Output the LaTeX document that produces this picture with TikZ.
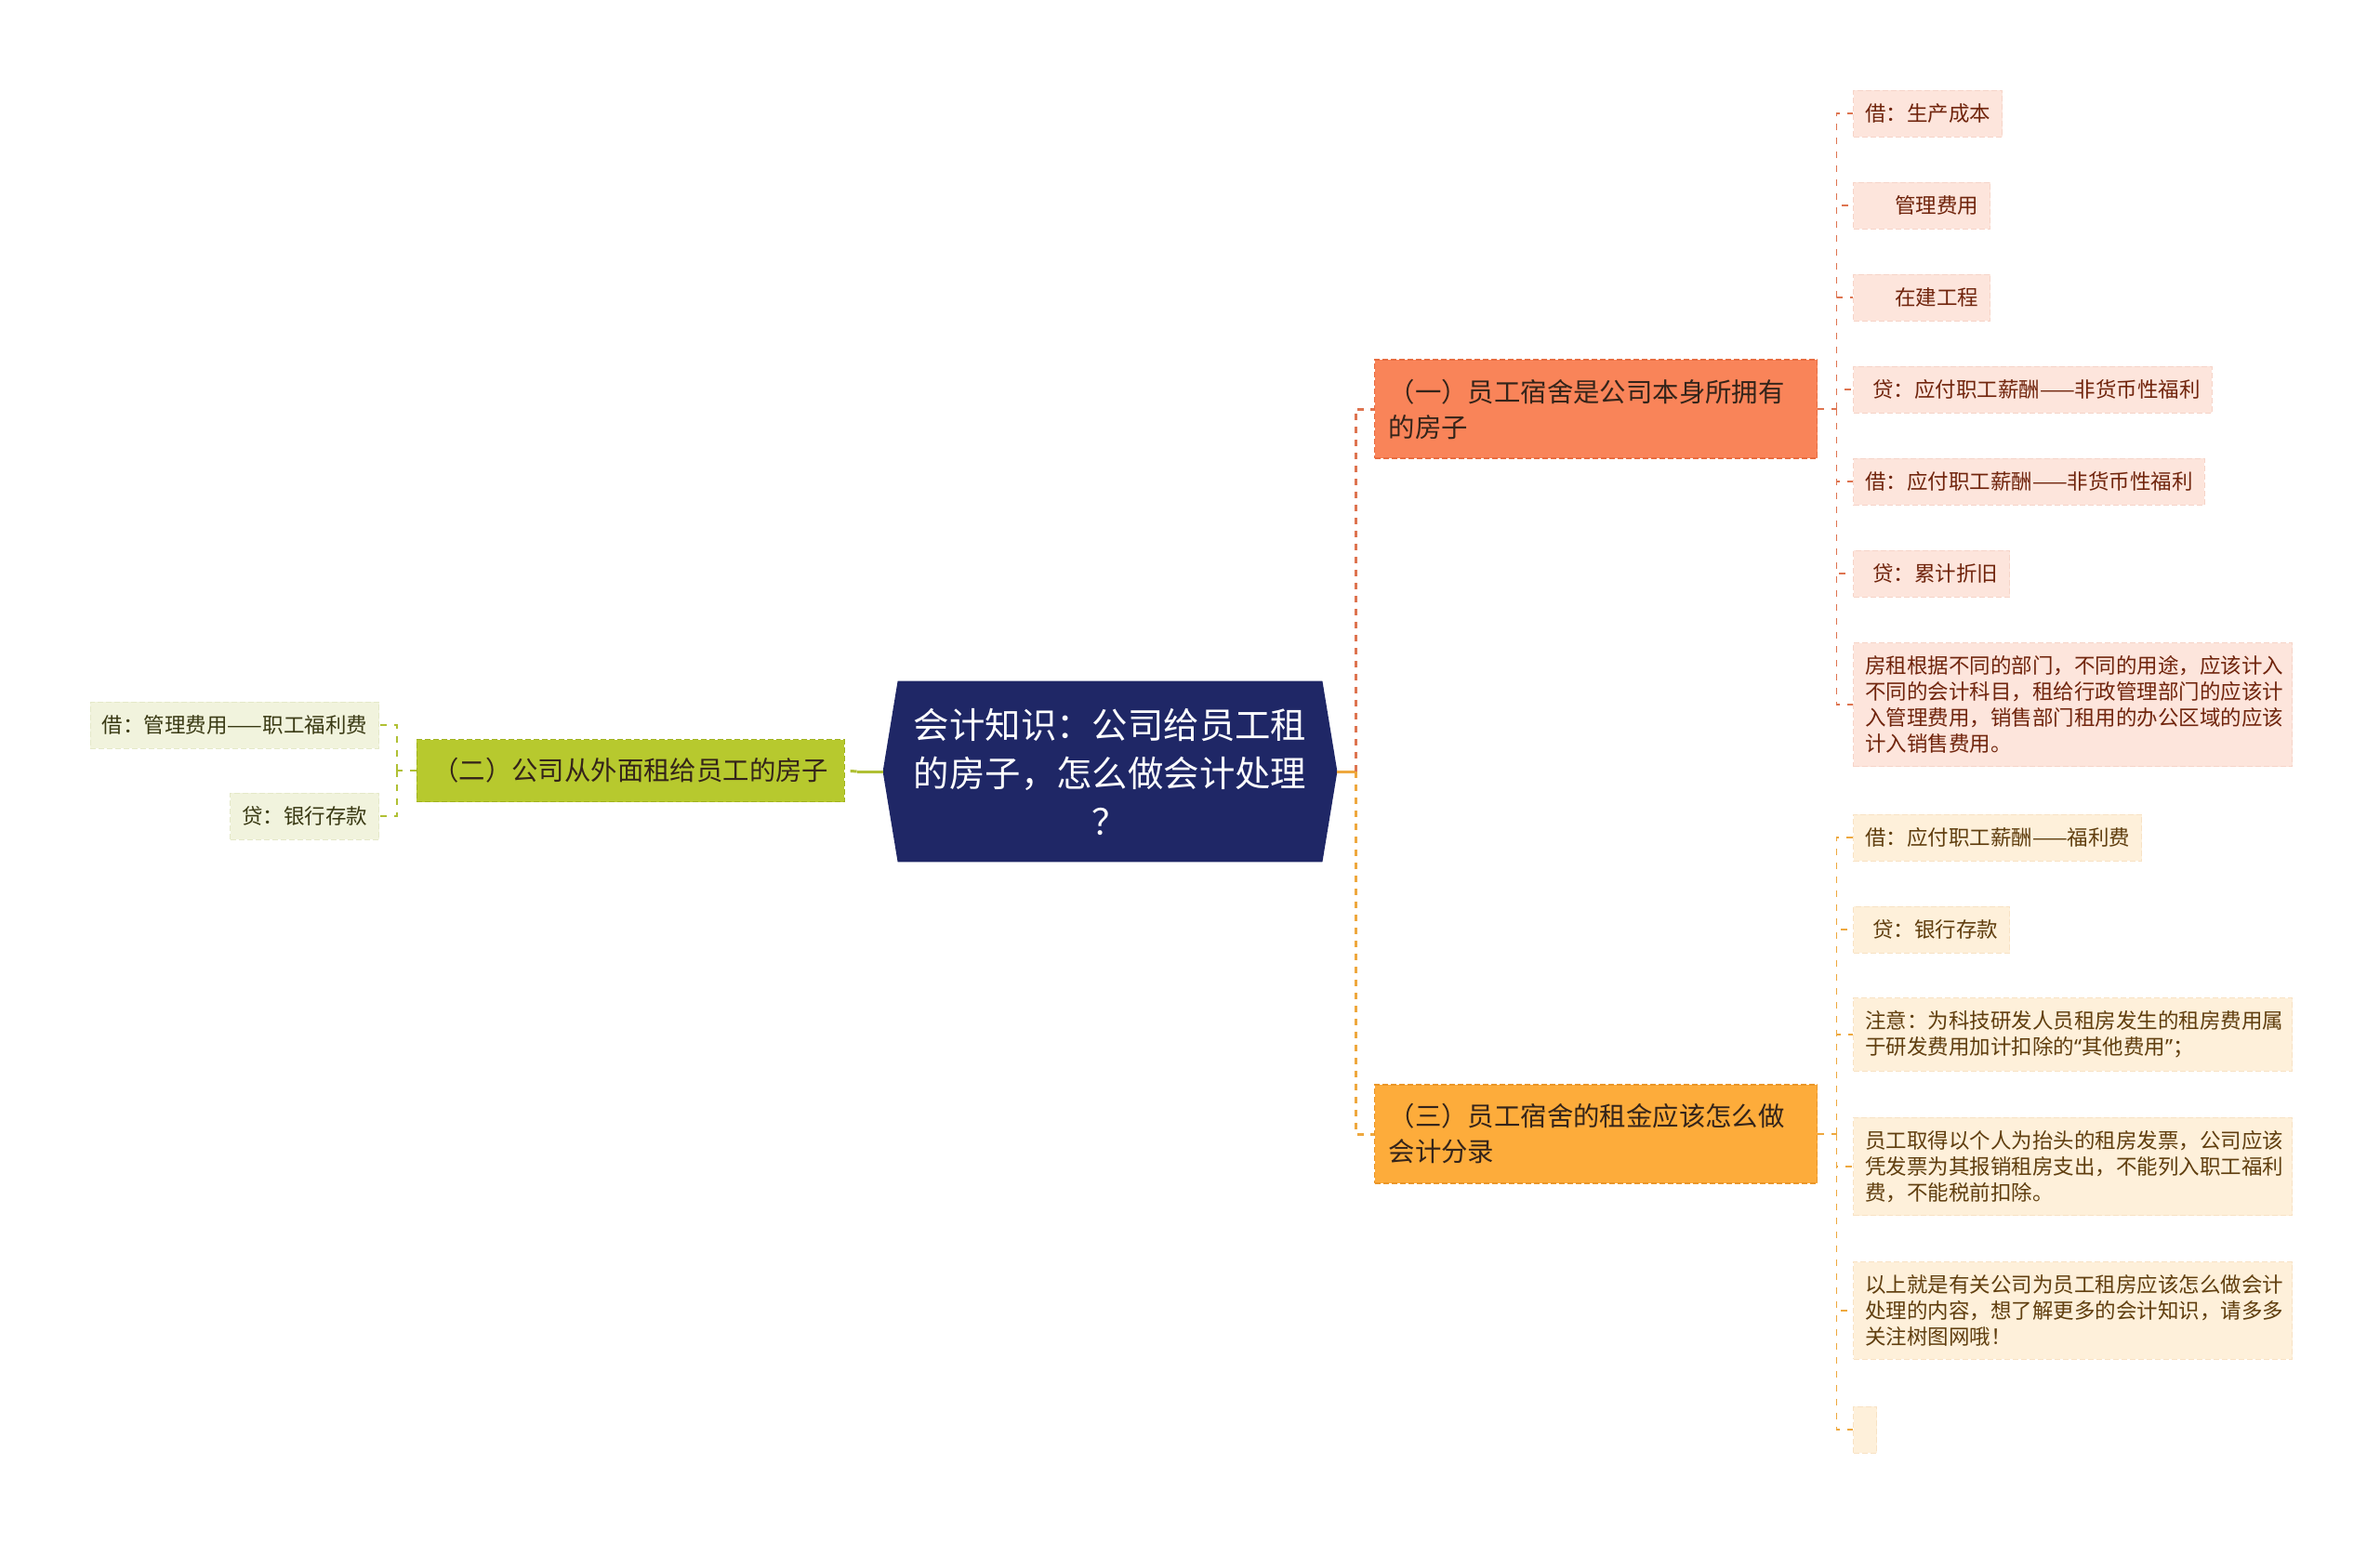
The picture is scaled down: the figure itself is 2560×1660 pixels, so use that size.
\documentclass[tikz,border=0pt]{standalone}
\usepackage{fontspec}
\setmainfont{Noto Sans CJK SC}
\newfontfamily\quotefont{Noto Sans}
\usetikzlibrary{calc, backgrounds}
\definecolor{rootnavy}{RGB}{31,39,102}
\definecolor{branchink}{RGB}{52,36,26}
% orange branch
\definecolor{coral}{RGB}{249,132,89}
\definecolor{coraledge}{RGB}{232,108,64}
\definecolor{coralline}{RGB}{222,116,80}
\definecolor{coralleaf}{RGB}{253,229,220}
\definecolor{coralleafedge}{RGB}{246,212,200}
\definecolor{coralink}{RGB}{112,36,12}
% amber branch
\definecolor{amber}{RGB}{253,172,59}
\definecolor{amberedge}{RGB}{234,150,40}
\definecolor{amberline}{RGB}{238,168,62}
\definecolor{amberleaf}{RGB}{254,240,218}
\definecolor{amberleafedge}{RGB}{248,226,196}
\definecolor{amberink}{RGB}{96,62,14}
% lime branch
\definecolor{lime}{RGB}{183,201,46}
\definecolor{limeedge}{RGB}{160,178,30}
\definecolor{limeline}{RGB}{176,192,52}
\definecolor{limeleaf}{RGB}{241,243,221}
\definecolor{limeleafedge}{RGB}{228,232,200}
\definecolor{limeink}{RGB}{58,58,20}

\begin{document}
\begin{tikzpicture}[x=0.5pt, y=-0.5pt,
  rootbox/.style={minimum width=228pt, minimum height=97pt, inner sep=0pt, align=center, text=white, font=\fontsize{19.2}{26}\selectfont},
  branchbox/.style={draw=#1edge, fill=#1, dash pattern=on 3pt off 1.5pt, line width=0.7pt, inner xsep=7.5pt, text=branchink, font=\fontsize{14.2}{19}\selectfont},
  leafbox/.style={draw=#1leafedge, fill=#1leaf, dash pattern=on 3pt off 1.5pt, line width=0.5pt, inner xsep=6.25pt, inner ysep=7pt, minimum height=25pt, text=#1ink, align=left, font=\fontsize{11.25}{14}\selectfont},
  link/.style={draw=#1line, line width=1.5pt, dash pattern=on 3.5pt off 3.5pt},
  twig/.style={draw=#1line, line width=0.9pt, dash pattern=on 3.5pt off 4pt}]
\useasboundingbox (0,0) rectangle (2560,1660);

% root
\node[rootbox] (root) at (1194,830) {会计知识：公司给员工租\\的房子，怎么做会计处理\\？};
\begin{scope}[on background layer]
\fill[rootnavy] (root.north west) -- (root.north east) -- ($(root.east)+(16,0)$) -- (root.south east) -- (root.south west) -- ($(root.west)+(-16,0)$) -- cycle;
\end{scope}
\coordinate (rootL) at ($(root.west)+(-16,0)$);
\coordinate (rootR) at ($(root.east)+(16,0)$);

% branches
\node[branchbox=coral, anchor=west, minimum width=238pt, minimum height=53pt, text width=223pt, align=left] (own) at (1478,440) {（一）员工宿舍是公司本身所拥有\\的房子};
\node[branchbox=amber, anchor=west, minimum width=238pt, minimum height=53pt, text width=223pt, align=left] (rent) at (1478,1220) {（三）员工宿舍的租金应该怎么做\\会计分录};
\node[branchbox=lime, anchor=east, minimum width=230pt, minimum height=33.5pt] (outside) at (909,829) {（二）公司从外面租给员工的房子};

% leaves of (一)
\node[leafbox=coral, anchor=west] (o1) at (1993,122) {借：生产成本};
\node[leafbox=coral, anchor=west] (o2) at (1993,221) {\hspace*{16pt}管理费用};
\node[leafbox=coral, anchor=west] (o3) at (1993,320) {\hspace*{16pt}在建工程};
\node[leafbox=coral, anchor=west] (o4) at (1993,419) {\hspace*{4pt}贷：应付职工薪酬——非货币性福利};
\node[leafbox=coral, anchor=west] (o5) at (1993,518) {借：应付职工薪酬——非货币性福利};
\node[leafbox=coral, anchor=west] (o6) at (1993,617) {\hspace*{4pt}贷：累计折旧};
\node[leafbox=coral, anchor=west, text width=223.5pt] (o7) at (1993,758) {房租根据不同的部门，不同的用途，应该计入\\不同的会计科目，租给行政管理部门的应该计\\入管理费用，销售部门租用的办公区域的应该\\计入销售费用。};

% leaves of (三)
\node[leafbox=amber, anchor=west] (a1) at (1993,901) {借：应付职工薪酬——福利费};
\node[leafbox=amber, anchor=west] (a2) at (1993,1000) {\hspace*{4pt}贷：银行存款};
\node[leafbox=amber, anchor=west, text width=223.5pt] (a3) at (1993,1113) {注意：为科技研发人员租房发生的租房费用属\\于研发费用加计扣除的{\quotefont “}其他费用{\quotefont ”}；};
\node[leafbox=amber, anchor=west, text width=223.5pt] (a4) at (1993,1255) {员工取得以个人为抬头的租房发票，公司应该\\凭发票为其报销租房支出，不能列入职工福利\\费，不能税前扣除。};
\node[leafbox=amber, anchor=west, text width=223.5pt] (a5) at (1993,1410) {以上就是有关公司为员工租房应该怎么做会计\\处理的内容，想了解更多的会计知识，请多多\\关注树图网哦！};
\node[leafbox=amber, anchor=west] (a6) at (1993,1538) {};

% leaves of (二)
\node[leafbox=lime, anchor=east] (g1) at (408,780) {借：管理费用——职工福利费};
\node[leafbox=lime, anchor=east] (g2) at (408,878) {贷：银行存款};

% root links
\coordinate (rootfork) at ($(rootR)+(20,0)$);
\coordinate (leftfork) at ($(rootL)+(-28,0)$);
\draw[amberline, line width=1.5pt] (rootR) -- (rootfork);
\draw[link=coral] (rootfork) |- (own.west);
\draw[link=amber] (rootfork) |- (rent.west);
\draw[limeline, line width=1.5pt] (rootL) -- (leftfork);
\draw[link=lime] (leftfork) -- (outside.east);

% branch to leaves
\coordinate (ownfork) at ($(own.east)+(20,0)$);
\coordinate (rentfork) at ($(rent.east)+(20,0)$);
\coordinate (outfork) at ($(outside.west)+(-21,0)$);
\draw[twig=coral] (own.east) -- (ownfork);
\draw[twig=amber] (rent.east) -- (rentfork);
\draw[twig=lime] (outside.west) -- (outfork);
\foreach \i in {1,...,7} \draw[twig=coral] (ownfork) |- (o\i.west);
\foreach \i in {1,...,6} \draw[twig=amber] (rentfork) |- (a\i.west);
\foreach \i in {1,2} \draw[twig=lime] (outfork) |- (g\i.east);
\end{tikzpicture}
\end{document}
